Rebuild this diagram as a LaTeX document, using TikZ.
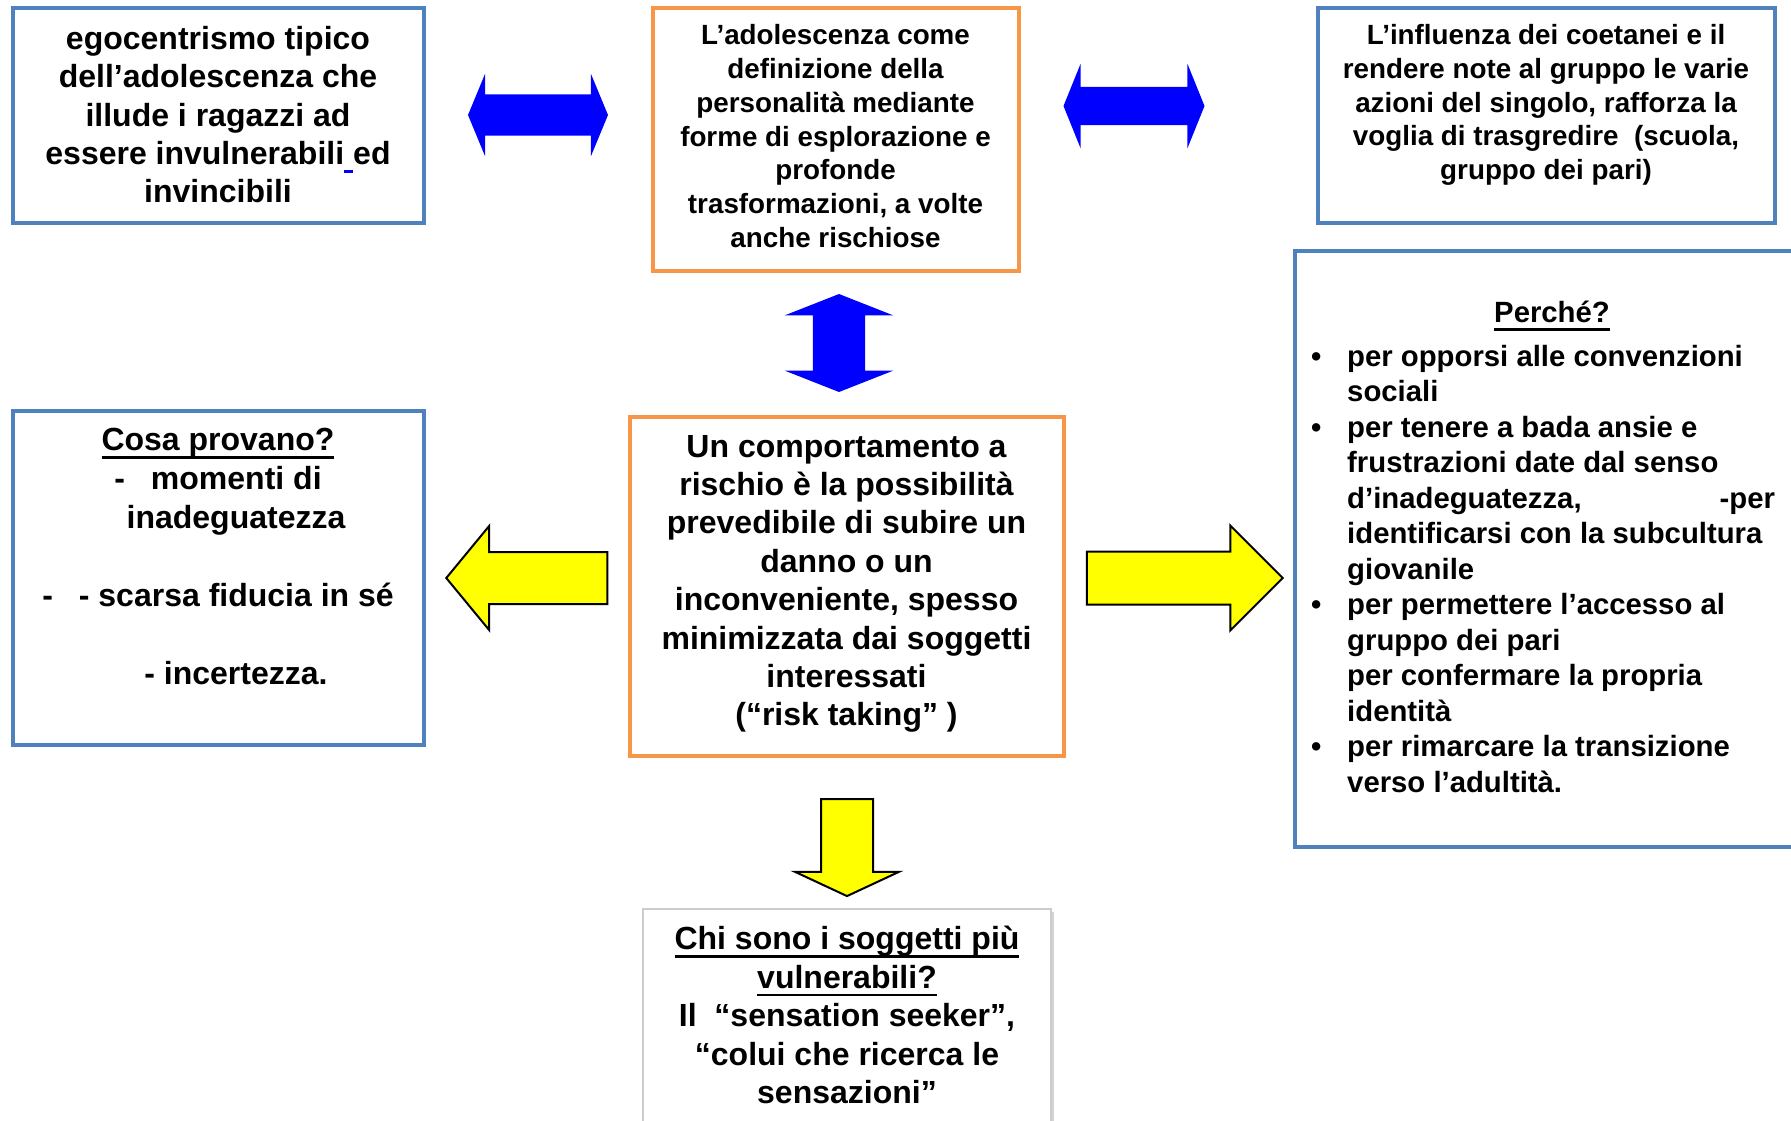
\documentclass[tikz,border=0pt]{standalone}
\usepackage{fontspec}
\setmainfont{Liberation Sans}
\usepackage{xcolor}
\usepackage{tikz}
\definecolor{frameblue}{RGB}{79, 129, 189}
\definecolor{frameorange}{RGB}{247, 150, 70}
\definecolor{pureblue}{RGB}{0, 0, 255}
\definecolor{brightyellow}{RGB}{255, 255, 0}
\usetikzlibrary{shapes, arrows, positioning, shadows}
\newcommand{\headul}[1]{\setbox0\hbox{#1}\rlap{\rule[-8pt]{\wd0}{2.6pt}}\box0}

\begin{document}
\begin{tikzpicture}[
    x=1pt, y=-1pt,
    bluebox/.style={rectangle, draw=frameblue, line width=4pt, inner sep=0pt, align=center, font=\bfseries\fontsize{32}{38.4}\selectfont},
    orangebox/.style={rectangle, draw=frameorange, line width=4pt, inner sep=0pt, align=center, font=\bfseries\fontsize{32}{38.4}\selectfont},
    greybox/.style={rectangle, draw=black!20, line width=1.5pt, fill=white, drop shadow={shadow xshift=2.5pt, shadow yshift=-2.5pt, opacity=0.35}, inner sep=0pt, align=center, font=\bfseries\fontsize{32}{38.4}\selectfont},
    smalltext/.style={font=\bfseries\fontsize{27.8}{33.7}\selectfont},
    bluelink/.style={double arrow, fill=pureblue, draw=none},
    yellowlink/.style={single arrow, fill=brightyellow, draw=black, line width=2pt}
]
    \useasboundingbox (0,0) rectangle (1791,1120);

    \node[bluebox, minimum width=411pt, minimum height=215pt] (egoc) at (218,115) {egocentrismo tipico\\dell’adolescenza che\\illude i ragazzi ad\\essere invulnerabili\textcolor{pureblue}{\rule[-9pt]{9pt}{3pt}}ed\\invincibili\rule[-1pt]{0pt}{0pt}};
    \node[orangebox, smalltext, minimum width=366pt, minimum height=263pt] (adol) at (835.5,139) {L’adolescenza come\\definizione della\\personalità mediante\\forme di esplorazione e\\profonde\\trasformazioni, a volte\\anche rischiose\rule[-6pt]{0pt}{0pt}};
    \node[bluebox, smalltext, minimum width=457pt, minimum height=215pt] (peers) at (1546,115) {L’influenza dei coetanei e il\\rendere note al gruppo le varie\\azioni del singolo, rafforza la\\voglia di trasgredire\ \ (scuola,\\gruppo dei pari)\rule[-26pt]{0pt}{0pt}};

    \node[bluebox, font=\bfseries\fontsize{32}{39}\selectfont, minimum width=411pt, minimum height=334pt] (feel) at (218,577.5) {\headul{Cosa provano?}\\-\hspace{26pt}momenti di\\\hspace*{36pt}inadeguatezza\\\\-\hspace{26pt}- scarsa fiducia in sé\\\\\hspace*{36pt}- incertezza.\rule[-42pt]{0pt}{0pt}};
    \node[orangebox, minimum width=434pt, minimum height=339pt] (risk) at (846.5,586) {Un comportamento a\\rischio è la possibilità\\prevedibile di subire un\\danno o un\\inconveniente, spesso\\minimizzata dai soggetti\\interessati\\(“risk taking” )\rule[-11pt]{0pt}{0pt}};
    \node[bluebox, minimum width=520pt, minimum height=596pt] (why) at (1554.5,548.5) {};
    \node[anchor=west, align=left, inner sep=0pt, font=\bfseries\fontsize{29.3}{35.5}\selectfont] (whytext) at (1311,547) {\hspace*{183pt}\headul{Perché?}\\[8pt]
        \makebox[36pt][l]{•}per opporsi alle convenzioni\\
        \hspace*{36pt}sociali\\
        \makebox[36pt][l]{•}per tenere a bada ansie e\\
        \hspace*{36pt}frustrazioni date dal senso\\
        \hspace*{36pt}d’inadeguatezza,\hspace{138pt}-per\\
        \hspace*{36pt}identificarsi con la subcultura\\
        \hspace*{36pt}giovanile\\
        \makebox[36pt][l]{•}per permettere l’accesso al\\
        \hspace*{36pt}gruppo dei pari\\
        \hspace*{36pt}per confermare la propria\\
        \hspace*{36pt}identità\\
        \makebox[36pt][l]{•}per rimarcare la transizione\\
        \hspace*{36pt}verso l’adultità.};

    \node[greybox, minimum width=408pt, minimum height=215pt] (who) at (847,1016.5) {\headul{Chi sono i soggetti più}\\\headul{vulnerabili?}\\Il\ \ “sensation seeker”,\\“colui che ricerca le\\sensazioni”\rule[-3pt]{0pt}{0pt}};

    \node[bluelink, minimum height=140pt, inner sep=20.5pt, double arrow head extend=20.5pt, double arrow tip angle=135] (linkab) at (538,115) {};
    \node[bluelink, minimum height=141pt, inner sep=19pt, double arrow head extend=23pt, double arrow tip angle=136] (linkbc) at (1134,106) {};
    \node[bluelink, rotate=90, minimum height=98pt, inner sep=26pt, double arrow head extend=28pt, double arrow tip angle=137] (linkbr) at (839,343) {};
    \node[yellowlink, rotate=180, minimum height=161pt, inner sep=25pt, single arrow head extend=26pt, single arrow tip angle=101] (tofeel) at (537.5,578) {};
    \node[yellowlink, minimum height=196pt, inner sep=25.5pt, single arrow head extend=26pt, single arrow tip angle=90] (towhy) at (1171.5,578) {};
    \node[yellowlink, rotate=-90, minimum height=97pt, inner sep=25pt, single arrow head extend=26pt, single arrow tip angle=130] (towho) at (847,841.5) {};
\end{tikzpicture}
\end{document}
